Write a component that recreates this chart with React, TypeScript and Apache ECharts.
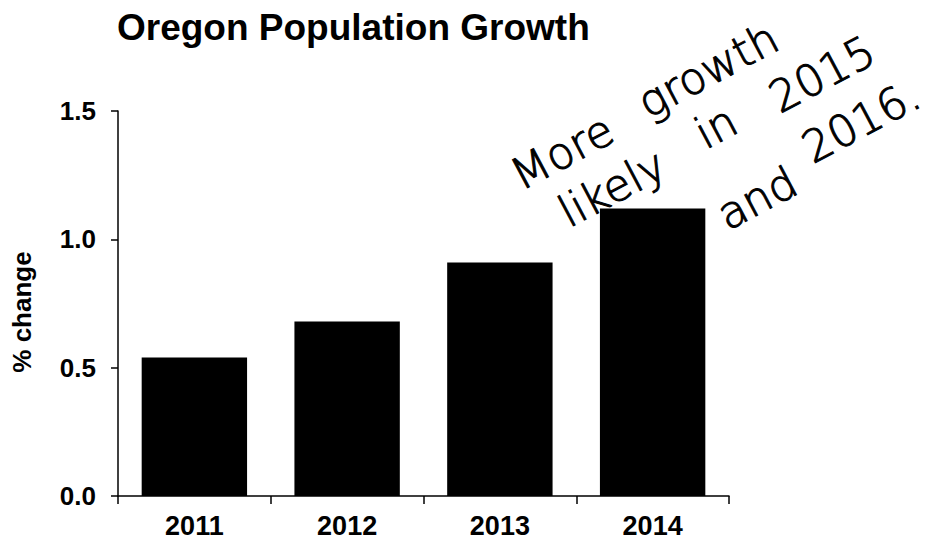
import React, { useEffect, useRef } from "react";
import * as echarts from "echarts";

const chartTitle = "Oregon Population Growth";
const yAxisTitle = "% change";
const years = ["2011", "2012", "2013", "2014"];
const pctChange = [0.54, 0.68, 0.91, 1.12];
const yTicks = { min: 0, max: 1.5, interval: 0.5 };

// handwritten note, word by word
const noteWords = ["More", "growth", "likely", "in", "2015", "and", "2016."];
const notePos: [number, number][] = [
  [562, 152],
  [708, 70],
  [612, 188],
  [716, 127],
  [822, 74],
  [757, 198],
  [861, 121],
];

export default function App() {
  const ref = useRef<HTMLDivElement>(null);
  useEffect(() => {
    if (!ref.current) return;
    const chart = echarts.init(ref.current, null, { renderer: "svg" });
    const font = "'Liberation Sans', Arial, Helvetica, sans-serif";
    const rot = (28 * Math.PI) / 180;
    chart.setOption({
      animation: false,
      backgroundColor: "#ffffff",
      title: {
        text: chartTitle,
        left: 117,
        top: 9,
        padding: 0,
        textStyle: { fontSize: 37, fontWeight: "bold", fontFamily: font, color: "#000" },
      },
      grid: { left: 118, right: 204, top: 111, bottom: 45, containLabel: false },
      xAxis: {
        type: "category",
        data: years,
        boundaryGap: true,
        axisLine: { show: true, lineStyle: { color: "#000", width: 1.5 } },
        axisTick: { show: true, alignWithLabel: false, length: 8, lineStyle: { color: "#000", width: 1.5 } },
        axisLabel: { fontSize: 27, fontWeight: "bold", fontFamily: font, color: "#000", margin: 16 },
      },
      yAxis: {
        type: "value",
        min: yTicks.min,
        max: yTicks.max,
        interval: yTicks.interval,
        splitLine: { show: false },
        axisLine: { show: true, lineStyle: { color: "#000", width: 1.5 } },
        axisTick: { show: true, length: 7, lineStyle: { color: "#000", width: 1.5 } },
        axisLabel: {
          fontSize: 26,
          fontWeight: "bold",
          fontFamily: font,
          color: "#000",
          margin: 22,
          formatter: (v: number) => v.toFixed(1),
        },
      },
      series: [
        {
          type: "bar",
          data: pctChange,
          barWidth: "69%",
          itemStyle: { color: "#000" },
        },
      ],
      graphic: [
        {
          type: "text",
          x: 22,
          y: 312,
          rotation: Math.PI / 2,
          style: {
            text: yAxisTitle,
            fontSize: 26,
            fontWeight: "bold",
            fontFamily: font,
            fill: "#000",
            align: "center",
            verticalAlign: "middle",
          },
        },
        ...noteWords.map((w, i) => ({
          type: "text",
          x: notePos[i][0],
          y: notePos[i][1],
          rotation: rot,
          style: {
            text: w,
            fontSize: 44,
            fontWeight: 200,
            fontFamily: "'DejaVu Sans', sans-serif",
            fill: "#000",
            stroke: "#000",
            lineWidth: 1,
            align: "center",
            verticalAlign: "middle",
          },
        })),
      ],
    });
    return () => chart.dispose();
  }, []);
  return (
    <div
      ref={ref}
      style={{ position: "fixed", left: 0, top: 0, width: 933, height: 541, background: "#fff" }}
    />
  );
}
